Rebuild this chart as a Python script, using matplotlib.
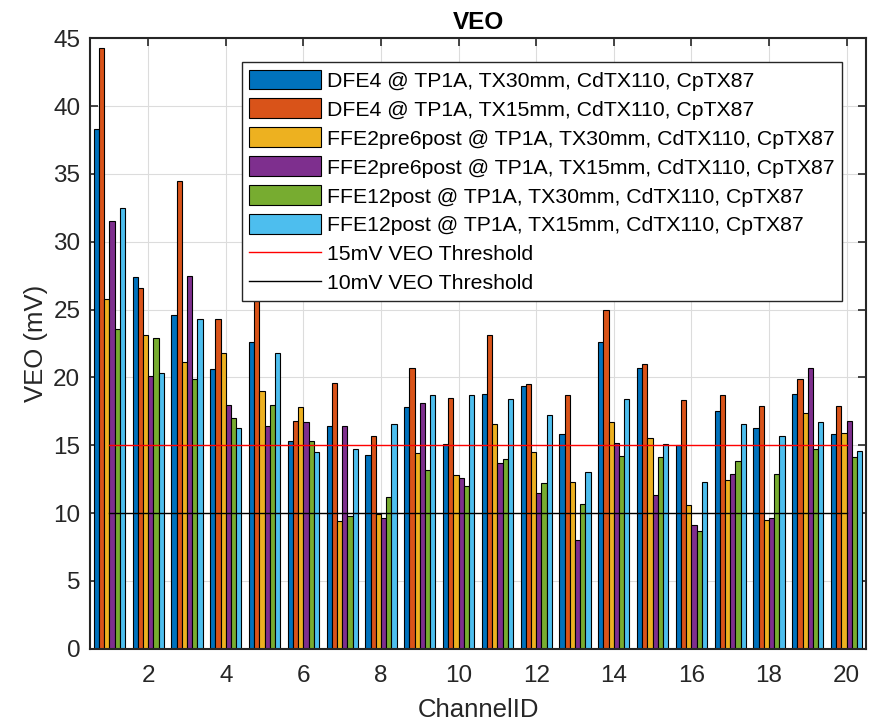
import numpy as np
import matplotlib.pyplot as plt

plt.rcParams['font.family'] = ['Liberation Sans', 'DejaVu Sans']

# данные
channel_id = np.arange(1, 21)

dfe4_30 = [38.3, 27.4, 24.6, 20.6, 22.6, 15.3, 16.4, 14.3, 17.8, 15.1,
           18.8, 19.4, 15.8, 22.6, 20.7, 15.0, 17.5, 16.3, 18.8, 15.8]
dfe4_15 = [44.3, 26.6, 34.5, 24.3, 27.0, 16.8, 19.6, 15.7, 20.7, 18.5,
           23.1, 19.5, 18.7, 25.0, 21.0, 18.3, 18.7, 17.9, 19.9, 17.9]
ffe2_30 = [25.8, 23.1, 21.1, 21.8, 19.0, 17.8, 9.4, 9.9, 14.4, 12.8,
           16.6, 14.5, 12.3, 16.7, 15.5, 10.6, 12.4, 9.5, 17.4, 15.9]
ffe2_15 = [31.5, 20.1, 27.5, 18.0, 16.4, 16.7, 16.4, 9.6, 18.1, 12.6,
           13.7, 11.5, 8.0, 15.2, 11.3, 9.1, 12.9, 9.6, 20.7, 16.8]
ffe12_30 = [23.6, 22.9, 19.9, 17.0, 18.0, 15.3, 9.8, 11.2, 13.2, 12.0,
            14.0, 12.2, 10.7, 14.2, 14.1, 8.7, 13.8, 12.9, 14.7, 14.1]
ffe12_15 = [32.5, 20.3, 24.3, 16.3, 21.8, 14.5, 14.7, 16.6, 18.7, 18.7,
            18.4, 17.2, 13.0, 18.4, 15.1, 12.3, 16.6, 15.7, 16.7, 14.6]

series = [dfe4_30, dfe4_15, ffe2_30, ffe2_15, ffe12_30, ffe12_15]
labels = [
    'DFE4 @ TP1A, TX30mm, CdTX110, CpTX87',
    'DFE4 @ TP1A, TX15mm, CdTX110, CpTX87',
    'FFE2pre6post @ TP1A, TX30mm, CdTX110, CpTX87',
    'FFE2pre6post @ TP1A, TX15mm, CdTX110, CpTX87',
    'FFE12post @ TP1A, TX30mm, CdTX110, CpTX87',
    'FFE12post @ TP1A, TX15mm, CdTX110, CpTX87',
]
colors = ['#0072BD', '#D95319', '#EDB120', '#7E2F8E', '#77AC30', '#4DBEEE']

thresholds = [15, 10]
threshold_labels = ['15mV VEO Threshold', '10mV VEO Threshold']
threshold_colors = ['red', 'black']

axis_color = '#262626'

fig = plt.figure(figsize=(8.73, 7.21), dpi=100)
ax = fig.add_axes([0.1031, 0.1003, 0.8889, 0.8466])

n = len(series)
w = 0.8 / n
handles = []
for i, (vals, lab, col) in enumerate(zip(series, labels, colors)):
    offs = (i - (n - 1) / 2) * w
    h = ax.bar(channel_id + offs, vals, width=w, color=col, edgecolor='black',
               linewidth=0.8, label=lab, zorder=2)
    handles.append(h)

for th, lab, col in zip(thresholds, threshold_labels, threshold_colors):
    ln, = ax.plot([channel_id[0], channel_id[-1]], [th, th], color=col,
                  linewidth=1.0, label=lab, zorder=3)
    handles.append(ln)

ax.set_xlim(0.5, 20.5)
ax.set_ylim(0, 45)
ax.set_xticks(np.arange(2, 21, 2))
ax.set_yticks(np.arange(0, 46, 5))
ax.grid(True, color='#dcdcdc', linewidth=0.8)
ax.set_axisbelow(True)

ax.tick_params(direction='in', length=6, width=1.2, top=True, right=True,
               labelsize=17.5, colors=axis_color)
ax.tick_params(axis='x', pad=12)
ax.tick_params(axis='y', pad=7)
for sp in ax.spines.values():
    sp.set_color(axis_color)
    sp.set_linewidth(1.5)

ax.set_title('VEO', fontsize=17.5, fontweight='bold', color='black', pad=7)
ax.set_xlabel('ChannelID', fontsize=18.5, color=axis_color, labelpad=8)
ax.set_ylabel('VEO (mV)', fontsize=18.5, color=axis_color, labelpad=4)

leg = ax.legend(handles=handles, loc='upper right',
                bbox_to_anchor=(0.969, 0.961), borderaxespad=0,
                fontsize=15.3, fancybox=False, framealpha=1,
                edgecolor=axis_color, handlelength=3.4, handleheight=1.05,
                labelspacing=0.37, handletextpad=0.25, borderpad=0.35)
leg.get_frame().set_linewidth(1.0)

fig.savefig('out.png', dpi=100)
